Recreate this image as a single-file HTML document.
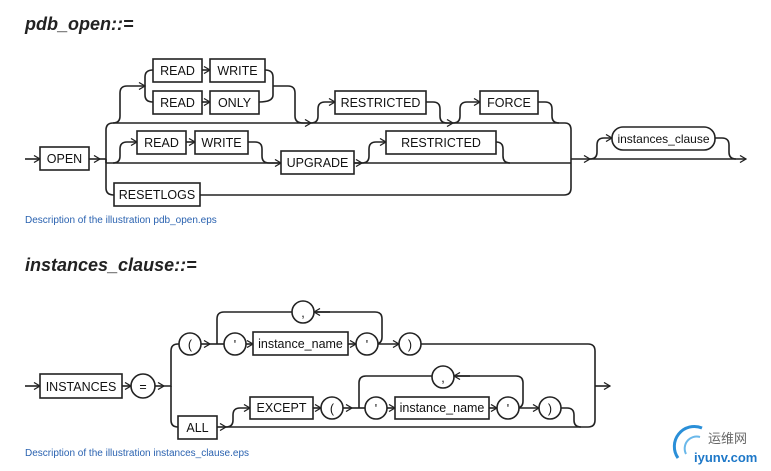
<!DOCTYPE html>
<html><head><meta charset="utf-8"><style>
html,body{margin:0;padding:0;background:#fff;}
svg{display:block;}
.b{fill:#fff;stroke:#222;stroke-width:1.6;}
.l{fill:none;stroke:#222;stroke-width:1.6;}
.t{font-family:"Liberation Sans",sans-serif;font-size:12.5px;fill:#111;text-anchor:middle;}
.h{font-family:"Liberation Sans",sans-serif;font-size:18px;font-weight:bold;font-style:italic;fill:#222;}
.c{font-family:"Liberation Sans",sans-serif;font-size:10px;fill:#2a62b0;}
</style></head><body>
<svg width="771" height="471" viewBox="0 0 771 471" xmlns="http://www.w3.org/2000/svg">
<defs><marker id="a" markerWidth="8" markerHeight="8" refX="7" refY="4" orient="auto" markerUnits="userSpaceOnUse"><path d="M1,0.5 L7,4 L1,7.5" fill="none" stroke="#222" stroke-width="1.3"/></marker></defs>
<text class="h" x="25" y="30">pdb_open::=</text>
<!-- top diagram lines -->
<path class="l" d="M25,159 H40" marker-end="url(#a)"/>
<path class="l" d="M89,159 H100" marker-end="url(#a)"/>
<path class="l" d="M100,159 H106"/>
<!-- main 3-way branch -->
<path class="l" d="M106,163 V130 Q106,123 113,123 H565 Q571,123 571,130 V188 Q571,195 564,195 H200"/>
<path class="l" d="M106,159 V188 Q106,195 114,195"/>
<!-- top: READ WRITE / READ ONLY -->
<path class="l" d="M113,123 Q120,123 120,116 V93 Q120,86 127,86 H145" marker-end="url(#a)"/>
<path class="l" d="M145,86 V77 Q145,70 153,70"/>
<path class="l" d="M145,86 V95 Q145,102 153,102"/>
<path class="l" d="M202,70 H210" marker-end="url(#a)"/>
<path class="l" d="M202,102 H210" marker-end="url(#a)"/>
<path class="l" d="M265,70 Q273,70 273,77 V95 Q273,102 259,102"/>
<path class="l" d="M273,86 H288 Q295,86 295,93 V116 Q295,123 303,123 H311" marker-end="url(#a)"/>
<!-- RESTRICTED -->
<path class="l" d="M311,123 Q318,123 318,116 V109 Q318,102 325,102 H335" marker-end="url(#a)"/>
<path class="l" d="M426,102 H433 Q440,102 440,109 V116 Q440,123 447,123 H453" marker-end="url(#a)"/>
<path class="l" d="M453,123 Q460,123 460,116 V109 Q460,102 467,102 H480" marker-end="url(#a)"/>
<path class="l" d="M538,102 H545 Q552,102 552,109 V116 Q552,123 559,123"/>
<!-- middle -->
<path class="l" d="M113,163 Q120,163 120,156 V149 Q120,142 127,142 H137" marker-end="url(#a)"/>
<path class="l" d="M186,142 H195" marker-end="url(#a)"/>
<path class="l" d="M248,142 H255 Q262,142 262,149 V156 Q262,163 269,163 H281" marker-end="url(#a)"/>
<path class="l" d="M354,163 H362" marker-end="url(#a)"/>
<path class="l" d="M362,163 Q369,163 369,156 V149 Q369,142 376,142 H386" marker-end="url(#a)"/>
<path class="l" d="M496,142 Q503,142 503,149 V156 Q503,163 510,163"/>
<path class="l" d="M106,163 H571"/>
<!-- exit + instances_clause -->
<path class="l" d="M571,159 H590" marker-end="url(#a)"/>
<path class="l" d="M590,159 Q597,159 597,152 V145 Q597,138 604,138 H612" marker-end="url(#a)"/>
<path class="l" d="M715,138 H722 Q729,138 729,145 V152 Q729,159 736,159"/>
<path class="l" d="M590,159 H746" marker-end="url(#a)"/>
<!-- boxes -->
<rect class="b" x="40" y="147" width="49" height="23"/><text class="t" x="64.5" y="163">OPEN</text>
<rect class="b" x="153" y="59" width="49" height="23"/><text class="t" x="177.5" y="75">READ</text>
<rect class="b" x="210" y="59" width="55" height="23"/><text class="t" x="237.5" y="75">WRITE</text>
<rect class="b" x="153" y="91" width="49" height="23"/><text class="t" x="177.5" y="107">READ</text>
<rect class="b" x="210" y="91" width="49" height="23"/><text class="t" x="234.5" y="107">ONLY</text>
<rect class="b" x="335" y="91" width="91" height="23"/><text class="t" x="380.5" y="107">RESTRICTED</text>
<rect class="b" x="480" y="91" width="58" height="23"/><text class="t" x="509" y="107">FORCE</text>
<rect class="b" x="137" y="131" width="49" height="23"/><text class="t" x="161.5" y="147">READ</text>
<rect class="b" x="195" y="131" width="53" height="23"/><text class="t" x="221.5" y="147">WRITE</text>
<rect class="b" x="281" y="151" width="73" height="23"/><text class="t" x="317.5" y="167">UPGRADE</text>
<rect class="b" x="386" y="131" width="110" height="23"/><text class="t" x="441" y="147">RESTRICTED</text>
<rect class="b" x="114" y="183" width="86" height="23"/><text class="t" x="157" y="199">RESETLOGS</text>
<rect class="b" x="612" y="127" width="103" height="23" rx="11"/><text class="t" x="663.5" y="143" style="font-size:12px">instances_clause</text>
<text class="c" x="25" y="223">Description of the illustration pdb_open.eps</text>

<!-- bottom diagram -->
<text class="h" x="25" y="271">instances_clause::=</text>
<path class="l" d="M25,386 H40" marker-end="url(#a)"/>
<path class="l" d="M122,386 H131" marker-end="url(#a)"/>
<path class="l" d="M155,386 H164" marker-end="url(#a)"/>
<path class="l" d="M164,386 H171 V351 Q171,344 178,344 H179"/>
<path class="l" d="M171,386 V420 Q171,427 178,427"/>
<!-- top path -->
<path class="l" d="M201,344 H210" marker-end="url(#a)"/>
<path class="l" d="M210,344 H224"/>
<path class="l" d="M217,344 V319 Q217,312 224,312 H375 Q382,312 382,319 V337 Q382,344 375,344"/>
<path class="l" d="M246,344 H253" marker-end="url(#a)"/>
<path class="l" d="M348,344 H356" marker-end="url(#a)"/>
<path class="l" d="M378,344 H399" marker-end="url(#a)"/>
<path class="l" d="M421,344 H588 Q595,344 595,351 V420 Q595,427 588,427"/>
<path class="l" d="M330,312 H314" marker-end="url(#a)"/>
<path class="l" d="M595,386 H610" marker-end="url(#a)"/>
<!-- bottom path -->
<path class="l" d="M217,427 H226" marker-end="url(#a)"/>
<path class="l" d="M226,427 H588"/>
<path class="l" d="M226,427 Q233,427 233,420 V415 Q233,408 240,408 H250" marker-end="url(#a)"/>
<path class="l" d="M313,408 H321" marker-end="url(#a)"/>
<path class="l" d="M343,408 H352" marker-end="url(#a)"/>
<path class="l" d="M352,408 H365"/>
<path class="l" d="M359,408 V383 Q359,376 366,376 H516 Q523,376 523,383 V401 Q523,408 516,408"/>
<path class="l" d="M387,408 H395" marker-end="url(#a)"/>
<path class="l" d="M489,408 H497" marker-end="url(#a)"/>
<path class="l" d="M519,408 H539" marker-end="url(#a)"/>
<path class="l" d="M561,408 H567 Q574,408 574,415 V420 Q574,427 581,427"/>
<path class="l" d="M470,376 H454" marker-end="url(#a)"/>
<!-- shapes -->
<rect class="b" x="40" y="374" width="82" height="24"/><text class="t" x="81" y="391">INSTANCES</text>
<circle class="b" cx="143" cy="386" r="12"/><text class="t" x="143" y="391">=</text>
<circle class="b" cx="190" cy="344" r="11"/><text class="t" x="190" y="349">(</text>
<circle class="b" cx="235" cy="344" r="11"/><text class="t" x="235" y="349">'</text>
<rect class="b" x="253" y="332" width="95" height="23"/><text class="t" x="300.5" y="348">instance_name</text>
<circle class="b" cx="367" cy="344" r="11"/><text class="t" x="367" y="349">'</text>
<circle class="b" cx="303" cy="312" r="11"/><text class="t" x="303" y="317">,</text>
<circle class="b" cx="410" cy="344" r="11"/><text class="t" x="410" y="349">)</text>
<rect class="b" x="178" y="416" width="39" height="23"/><text class="t" x="197.5" y="432">ALL</text>
<rect class="b" x="250" y="397" width="63" height="22"/><text class="t" x="281.5" y="412">EXCEPT</text>
<circle class="b" cx="332" cy="408" r="11"/><text class="t" x="332" y="413">(</text>
<circle class="b" cx="376" cy="408" r="11"/><text class="t" x="376" y="413">'</text>
<rect class="b" x="395" y="397" width="94" height="22"/><text class="t" x="442" y="412">instance_name</text>
<circle class="b" cx="508" cy="408" r="11"/><text class="t" x="508" y="413">'</text>
<circle class="b" cx="443" cy="377" r="11"/><text class="t" x="443" y="382">,</text>
<circle class="b" cx="550" cy="408" r="11"/><text class="t" x="550" y="413">)</text>
<text class="c" x="25" y="456">Description of the illustration instances_clause.eps</text>
<!-- watermark -->
<path d="M678,458 A20,20 0 0 1 702,428" fill="none" stroke="#2a8fd8" stroke-width="3"/>
<path d="M686,454 A12,12 0 0 1 700,437" fill="none" stroke="#6ab8ea" stroke-width="2"/>
<text x="708" y="443" style="font-family:'Noto Sans CJK SC',sans-serif;font-size:13px;fill:#666">运维网</text>
<text x="694" y="462" style="font-family:'Liberation Sans',sans-serif;font-size:13px;font-weight:bold;fill:#1e78c8">iyunv.com</text>
</svg>
</body></html>
